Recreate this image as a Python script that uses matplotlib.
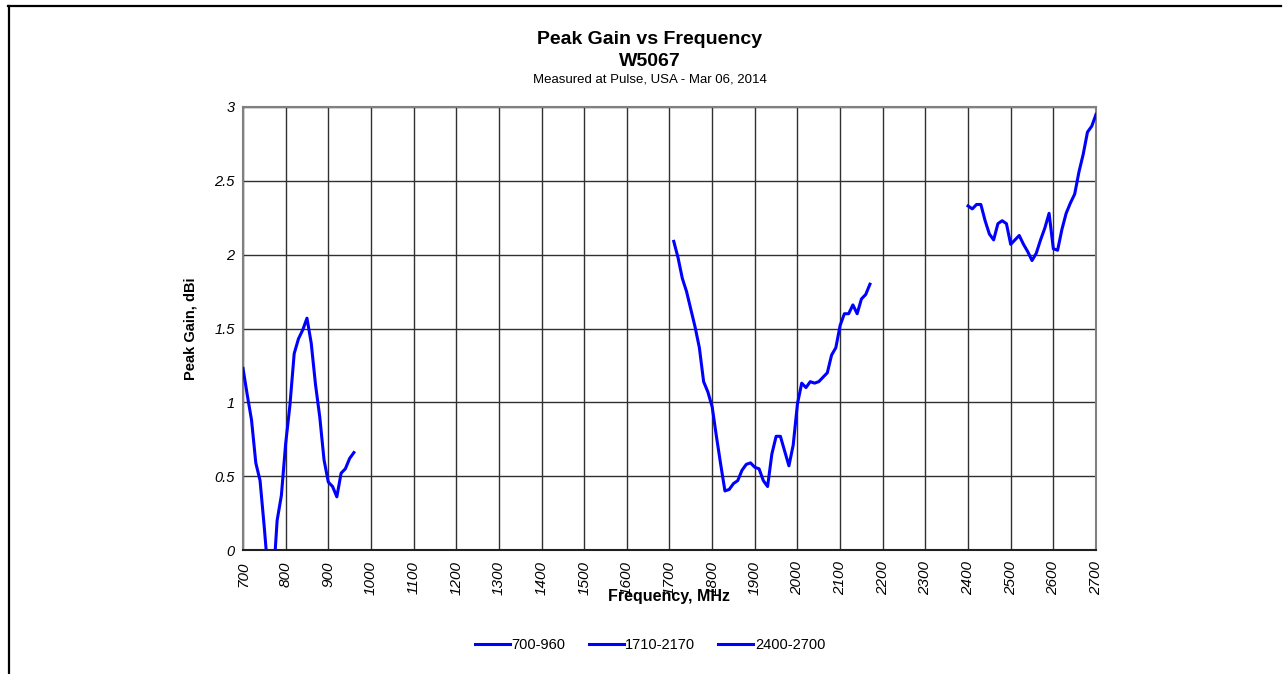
import numpy as np
import matplotlib.pyplot as plt
from matplotlib.lines import Line2D

plt.rcParams['font.family'] = ['Liberation Sans', 'DejaVu Sans']

# band 1: 700-960 MHz
freq_low = [700, 710, 720, 730, 740, 750, 760, 770, 780, 790, 800, 810, 820,
            830, 840, 850, 860, 870, 880, 890, 900, 910, 920, 930, 940, 950, 960]
gain_low = [1.23, 1.05, 0.88, 0.59, 0.47, 0.15, -0.20, -0.25, 0.20, 0.37, 0.72,
            0.98, 1.33, 1.43, 1.49, 1.57, 1.40, 1.12, 0.90, 0.61, 0.46, 0.43,
            0.36, 0.52, 0.55, 0.62, 0.66]

# band 2: 1710-2170 MHz
freq_mid = [1710, 1720, 1730, 1740, 1750, 1760, 1770, 1780, 1790, 1800, 1810,
            1820, 1830, 1840, 1850, 1860, 1870, 1880, 1890, 1900, 1910, 1920,
            1930, 1940, 1950, 1960, 1970, 1980, 1990, 2000, 2010, 2020, 2030,
            2040, 2050, 2060, 2070, 2080, 2090, 2100, 2110, 2120, 2130, 2140,
            2150, 2160, 2170]
gain_mid = [2.09, 1.98, 1.84, 1.75, 1.63, 1.51, 1.37, 1.14, 1.07, 0.97, 0.77,
            0.58, 0.40, 0.41, 0.45, 0.47, 0.54, 0.58, 0.59, 0.56, 0.55, 0.47,
            0.43, 0.65, 0.77, 0.77, 0.67, 0.57, 0.71, 0.99, 1.13, 1.10, 1.14,
            1.13, 1.14, 1.17, 1.20, 1.32, 1.37, 1.52, 1.60, 1.60, 1.66, 1.60,
            1.70, 1.73, 1.80]

# band 3: 2400-2700 MHz
freq_high = [2400, 2410, 2420, 2430, 2440, 2450, 2460, 2470, 2480, 2490, 2500,
             2510, 2520, 2530, 2540, 2550, 2560, 2570, 2580, 2590, 2600, 2610,
             2620, 2630, 2640, 2650, 2660, 2670, 2680, 2690, 2700]
gain_high = [2.33, 2.31, 2.34, 2.34, 2.23, 2.14, 2.10, 2.21, 2.23, 2.21, 2.07,
             2.10, 2.13, 2.07, 2.02, 1.96, 2.01, 2.10, 2.18, 2.28, 2.04, 2.03,
             2.17, 2.28, 2.35, 2.41, 2.56, 2.68, 2.83, 2.87, 2.95]

band_names = ['700-960', '1710-2170', '2400-2700']
x_ticks = list(range(700, 2701, 100))
y_ticks = [0, 0.5, 1, 1.5, 2, 2.5, 3]

W, H = 1283, 674
fig = plt.figure(figsize=(W / 100, H / 100), dpi=100)
ax = fig.add_axes([243 / W, 1 - 550 / H, (1096 - 243) / W, (550 - 107) / H])

for f, g, name in zip([freq_low, freq_mid, freq_high],
                      [gain_low, gain_mid, gain_high], band_names):
    ax.plot(f, g, color='#0000ff', lw=2.2, label=name, zorder=3)

ax.set_xlim(700, 2700)
ax.set_ylim(0, 3)
ax.set_xticks(x_ticks)
ax.set_xticklabels([str(t) for t in x_ticks], rotation=90, fontstyle='italic',
                   fontsize=11)
ax.set_yticks(y_ticks)
ax.set_yticklabels(['0', '0.5', '1', '1.5', '2', '2.5', '3'],
                   fontstyle='italic', fontsize=10.5)
ax.tick_params(length=0, pad=6)
ax.tick_params(axis='x', pad=8)
ax.grid(True, color='#303030', lw=1.0)
ax.set_axisbelow(True)
for s in ax.spines.values():
    s.set_color('#808080')
    s.set_linewidth(1.5)
ax.spines['bottom'].set_color('#202020')

ax.set_ylabel('Peak Gain, dBi', fontweight='bold', fontsize=10.5, labelpad=12)
fig.text(669 / W, 1 - 597 / H, 'Frequency, MHz', ha='center', va='center',
         fontweight='bold', fontsize=11.5)

fig.text(650 / W, 1 - 40 / H, 'Peak Gain vs Frequency', ha='center',
         va='center', fontweight='bold', fontsize=14)
fig.text(650 / W, 1 - 61 / H, 'W5067', ha='center', va='center',
         fontweight='bold', fontsize=14)
fig.text(650 / W, 1 - 80 / H, 'Measured at Pulse, USA - Mar 06, 2014',
         ha='center', va='center', fontsize=9.5)

fig.legend(loc='center', bbox_to_anchor=(650 / W, 1 - 645 / H), ncol=3,
           frameon=False, fontsize=10.5, handlelength=2.4, handletextpad=0.1,
           columnspacing=1.6)

# outer chart border
fig.add_artist(Line2D([8.5 / W, 8.5 / W], [0, 1 - 6 / H], color='black', lw=1.6))
fig.add_artist(Line2D([8 / W, 1281 / W], [1 - 6 / H, 1 - 6 / H], color='black', lw=1.6))

fig.savefig('out.png', dpi=100)
